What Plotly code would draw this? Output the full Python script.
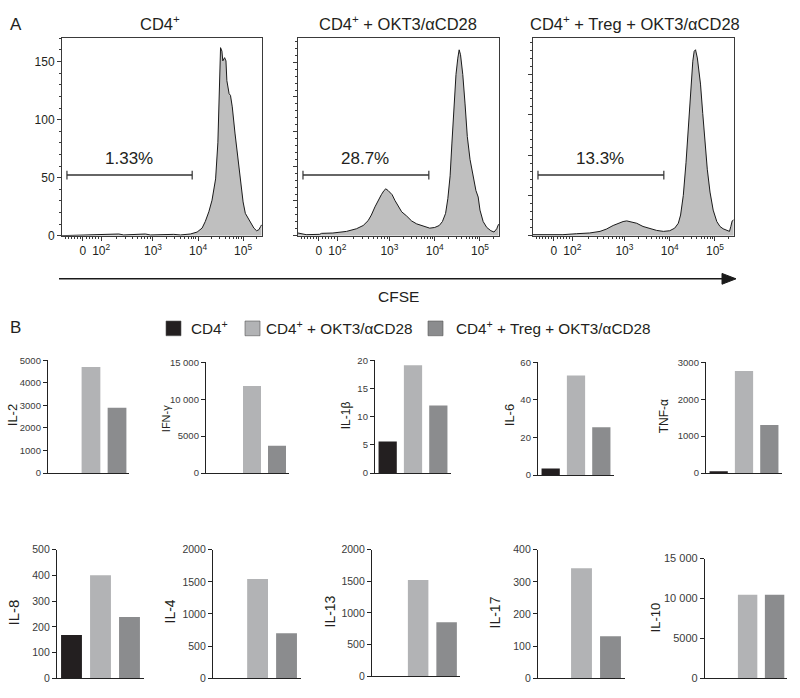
import plotly.graph_objects as go

W, H = 800, 698
FONT = "Liberation Sans, Arial, Helvetica, sans-serif"
TXT = "#231f20"

# ---------------- Panel A data: CFSE histograms ----------------
# x in biexponential display units (10^3 -> 3, 10^4 -> 4, 10^5 -> 5), y = cell count
hist_titles = ["CD4<sup>+</sup>", "CD4<sup>+</sup> + OKT3/αCD28",
               "CD4<sup>+</sup> + Treg + OKT3/αCD28"]

h1_x = [0.98, 1.46, 1.83, 2.13, 2.24, 2.35, 2.72, 2.83, 2.94, 3.24, 3.46, 3.61, 3.83,
        3.98, 4.09, 4.16, 4.24, 4.31, 4.39, 4.44, 4.48, 4.50, 4.53, 4.55, 4.59, 4.62,
        4.64, 4.69, 4.72, 4.76, 4.82, 4.88, 4.94, 5.00, 5.05, 5.10, 5.16, 5.24, 5.30,
        5.35, 5.39, 5.41]
h1_y = [0, 0.3, 0.6, 0.8, 1.4, 0.6, 0.8, 1.4, 0.6, 1.1, 1.1, 0.6, 1.4,
        3.1, 6.5, 12.1, 20.6, 30.5, 48.9, 80, 125, 162, 159, 150.6, 153.4, 150.6,
        133.6, 122.3, 120.9, 111, 88.4, 70, 48.9, 29.1, 19.2, 15.5, 11.6, 6.5, 4.2,
        5.1, 7.9, 9.3]

h2_x = [0.98, 1.16, 1.46, 1.50, 1.75, 2.05, 2.27, 2.42, 2.53, 2.60, 2.68, 2.75, 2.82,
        2.88, 2.92, 2.97, 3.01, 3.06, 3.12, 3.19, 3.27, 3.38, 3.49, 3.60, 3.75, 3.89,
        4.00, 4.10, 4.17, 4.24, 4.29, 4.34, 4.38, 4.42, 4.47, 4.51, 4.54, 4.57, 4.62,
        4.67, 4.72, 4.78, 4.84, 4.87, 4.91, 4.96, 5.00, 5.07, 5.15, 5.24, 5.31, 5.37,
        5.41]
h2_y = [3.8, 1.4, 1.9, 3.3, 3.8, 6.1, 9.9, 14.6, 21.7, 29.7, 41.5, 50.9, 59,
        65.1, 67.5, 65.1, 62.7, 59, 50.9, 42.9, 34.4, 28.3, 21.2, 17, 13.2, 10.8,
        11.8, 14.6, 20.3, 32.1, 53.3, 86.3, 133.5, 185.4, 232.5, 256, 268, 260.9, 232.5,
        190, 143, 110, 91, 76.9, 65.1, 55.7, 36.8, 20.3, 11.8, 7.1, 5.2, 9.9,
        16.5]

h3_x = [0.98, 1.64, 1.94, 2.23, 2.46, 2.60, 2.75, 2.86, 2.97, 3.05, 3.12, 3.19, 3.27,
        3.41, 3.56, 3.71, 3.86, 4.00, 4.11, 4.19, 4.24, 4.30, 4.36, 4.41, 4.46, 4.51,
        4.54, 4.57, 4.61, 4.65, 4.68, 4.73, 4.78, 4.83, 4.89, 4.96, 5.04, 5.11, 5.18,
        5.26, 5.32, 5.35, 5.38, 5.41]
h3_y = [1.2, 1.2, 2.4, 3.3, 5.3, 8.1, 12.6, 15.4, 17.5, 18.3, 17.5, 16.7, 15.4,
        11.4, 8.5, 6.5, 5.3, 6.1, 9.3, 15.4, 25.6, 50, 90.6, 135.4, 184.1, 216.7,
        228.9, 230.9, 220.7, 204.5, 188.2, 151.6, 115, 82.5, 54.1, 31.7, 17.5, 11.4, 8.5,
        6.1, 5.3, 11.4, 18.3, 19.5]

hist_x = [h1_x, h2_x, h3_x]
hist_y = [h1_y, h2_y, h3_y]
hist_ymax = [170, 284.5, 245]
gate_pct = ["1.33%", "28.7%", "13.3%"]
gate_lo, gate_hi = 1.09, 3.87
cfse_tickvals = [1.44, 1.85, 3, 4, 5]
cfse_ticktext = ["0", "10<sup>2</sup>", "10<sup>3</sup>", "10<sup>4</sup>", "10<sup>5</sup>"]
cfse_minor = [1.05, 1.12, 1.19, 1.26, 1.33, 1.39, 1.52, 1.58, 1.65, 1.72, 1.78,
              2.196, 2.399, 2.542, 2.654, 2.745, 2.822, 2.889, 2.947,
              3.301, 3.477, 3.602, 3.699, 3.778, 3.845, 3.903, 3.954,
              4.301, 4.477, 4.602, 4.699, 4.778, 4.845, 4.903, 4.954, 5.301]

# ---------------- Panel B data: cytokines ----------------
groups = ["CD4<sup>+</sup>", "CD4<sup>+</sup> + OKT3/αCD28", "CD4<sup>+</sup> + Treg + OKT3/αCD28"]
group_colors = ["#231f20", "#b2b3b5", "#8b8c8e"]
cytokines = ["IL-2", "IFN-γ", "IL-1β", "IL-6", "TNF-α",
             "IL-8", "IL-4", "IL-13", "IL-17", "IL-10"]
il2 = [0, 4700, 2900]
ifng = [0, 11800, 3700]
il1b = [5.6, 19.1, 12.0]
il6 = [3.5, 53, 25.5]
tnfa = [40, 2760, 1300]
il8 = [168, 401, 238]
il4 = [0, 1545, 700]
il13 = [0, 1520, 855]
il17 = [0, 342, 131]
il10 = [0, 10450, 10450]
cyto_values = [il2, ifng, il1b, il6, tnfa, il8, il4, il13, il17, il10]
cyto_ymax = [5000, 15000, 20, 60, 3000, 500, 2000, 2000, 400, 15000]
cyto_ticks = [[0, 1000, 2000, 3000, 4000, 5000],
              [0, 5000, 10000, 15000],
              [0, 5, 10, 15, 20],
              [0, 20, 40, 60],
              [0, 1000, 2000, 3000],
              [0, 100, 200, 300, 400, 500],
              [0, 500, 1000, 1500, 2000],
              [0, 500, 1000, 1500, 2000],
              [0, 100, 200, 300, 400],
              [0, 5000, 10000, 15000]]
cyto_ticktext = [["0", "1000", "2000", "3000", "4000", "5000"],
                 ["0", "5000", "10 000", "15 000"],
                 ["0", "5", "10", "15", "20"],
                 ["0", "20", "40", "60"],
                 ["0", "1000", "2000", "3000"],
                 ["0", "100", "200", "300", "400", "500"],
                 ["0", "500", "1000", "1500", "2000"],
                 ["0", "500", "1000", "1500", "2000"],
                 ["0", "100", "200", "300", "400"],
                 ["0", "5000", "10 000", "15 000"]]

# ---------------- layout helpers (pixel geometry) ----------------
def fx(px):
    return px / W

def fy(py):
    return 1 - py / H

def names(n):
    if n == 1:
        return "x", "y", "xaxis", "yaxis"
    return f"x{n}", f"y{n}", f"xaxis{n}", f"yaxis{n}"

fig = go.Figure()
layout = {}
annotations = []
shapes = []

# Panel A boxes: (left, right, top, bottom) in px
hist_boxes = [(62, 262, 33, 234), (298, 499, 33, 234), (533, 734, 33, 234)]
title_cx = [160, 398, 635]

for i in range(3):
    n = i + 1
    l, r, t, b = hist_boxes[i]
    xa, ya, xk, yk = names(n)
    fig.add_trace(go.Scatter(
        x=hist_x[i], y=hist_y[i], mode="lines", fill="tozeroy",
        fillcolor="#bfbfbf", line=dict(color="#1a1a1a", width=1),
        xaxis=xa, yaxis=ya, showlegend=False, hoverinfo="skip"))
    layout[xk] = dict(
        domain=[fx(l), fx(r)], anchor=ya, range=[0.98, 5.42],
        showline=True, mirror=True, linecolor="#3a3a3a", linewidth=1,
        ticks="outside", ticklen=4, tickcolor="#3a3a3a", tickwidth=1,
        tickmode="array", tickvals=cfse_tickvals, ticktext=cfse_ticktext,
        tickfont=dict(size=12, color=TXT, family=FONT),
        minor=dict(tickmode="array", tickvals=cfse_minor, ticks="outside",
                   ticklen=2, tickcolor="#3a3a3a", tickwidth=1),
        showgrid=False, zeroline=False)
    layout[yk] = dict(
        domain=[fy(b), fy(t)], anchor=xa, range=[0, hist_ymax[i]],
        showline=True, mirror=True, linecolor="#3a3a3a", linewidth=1,
        ticks="outside", ticklen=4, tickcolor="#3a3a3a", tickwidth=1,
        tickmode="linear", tick0=0, dtick=50,
        showticklabels=(i == 0),
        tickfont=dict(size=12, color=TXT, family=FONT),
        minor=dict(ticks="outside", ticklen=2, dtick=10, tickcolor="#3a3a3a"),
        showgrid=False, zeroline=False)
    annotations.append(dict(
        x=fx(title_cx[i]), y=fy(17), xref="paper", yref="paper",
        text=hist_titles[i], showarrow=False, xanchor="center", yanchor="middle",
        font=dict(size=16.5, color=TXT, family=FONT)))
    gy = 0.307
    shapes.append(dict(type="line", xref=xa, yref=f"{ya} domain",
                       x0=gate_lo, x1=gate_hi, y0=gy, y1=gy,
                       line=dict(color="#333333", width=1.5)))
    for gx in (gate_lo, gate_hi):
        shapes.append(dict(type="line", xref=xa, yref=f"{ya} domain",
                           x0=gx, x1=gx, y0=gy - 0.022, y1=gy + 0.022,
                           line=dict(color="#333333", width=1.2)))
    annotations.append(dict(
        x=(gate_lo + gate_hi) / 2 - 0.02, y=0.393, xref=xa, yref=f"{ya} domain",
        text=gate_pct[i], showarrow=False, xanchor="center", yanchor="middle",
        font=dict(size=17, color=TXT, family=FONT)))

# CFSE arrow
shapes.append(dict(type="line", xref="paper", yref="paper",
                   x0=fx(59), x1=fx(725), y0=fy(278), y1=fy(278),
                   line=dict(color="#1a1a1a", width=1.6)))
shapes.append(dict(type="path", xref="paper", yref="paper",
                   path=f"M {fx(722)} {fy(272.5)} L {fx(736)} {fy(278)} L {fx(722)} {fy(283.5)} Z",
                   fillcolor="#1a1a1a", line=dict(color="#1a1a1a", width=1)))
annotations.append(dict(x=fx(398), y=fy(296), xref="paper", yref="paper",
                        text="CFSE", showarrow=False, xanchor="center", yanchor="middle",
                        font=dict(size=15.5, color=TXT, family=FONT)))

# Panel letters
annotations.append(dict(x=fx(8), y=fy(19), xref="paper", yref="paper", text="A",
                        showarrow=False, xanchor="left", yanchor="middle",
                        font=dict(size=17, color=TXT, family=FONT)))
annotations.append(dict(x=fx(8), y=fy(328), xref="paper", yref="paper", text="B",
                        showarrow=False, xanchor="left", yanchor="middle",
                        font=dict(size=17, color=TXT, family=FONT)))

# Legend (manual)
leg_sq = [166, 245, 428]
leg_tx = [189, 264, 454]
for k in range(3):
    shapes.append(dict(type="rect", xref="paper", yref="paper",
                       x0=fx(leg_sq[k]), x1=fx(leg_sq[k] + 15), y0=fy(336), y1=fy(321),
                       fillcolor=group_colors[k], line=dict(color="#555555", width=0.6)))
    annotations.append(dict(x=fx(leg_tx[k]), y=fy(328), xref="paper", yref="paper",
                            text=groups[k], showarrow=False, xanchor="left", yanchor="middle",
                            font=dict(size=15.3, color=TXT, family=FONT)))

# Panel B boxes:
# (axis_x, end_x, top, bottom, xrange_lo, xrange_hi, title_x, title_y, title_size, tick_size)
bar_boxes = [
    (48, 129, 361, 476, -0.65, 2.46, 12, 417, 13, 9.5),
    (206, 289, 363, 476, -0.84, 2.48, 166, 421, 11, 9.5),
    (375, 451, 361, 476, -0.5, 2.5, 346, 417, 12, 9.5),
    (538, 614, 363, 478, -0.5, 2.5, 509, 417, 13, 9.5),
    (706, 782, 363, 476, -0.5, 2.5, 664, 418, 12, 9.5),
    (57, 144, 554, 685, -0.5, 2.5, 13, 618, 15, 10.5),
    (213, 301, 554, 685, -0.54, 2.5, 170, 617, 14, 10.5),
    (372, 460, 554, 683, -0.62, 2.47, 330, 617, 14, 10.5),
    (538, 625, 554, 685, -0.5, 2.5, 495, 618, 14, 10.5),
    (705, 787, 563, 685, -0.58, 2.46, 655, 623, 13, 11),
]

for j in range(10):
    n = j + 4
    ax0, ax1, t, b, lo, hi, tx, ty, tsz, ksz = bar_boxes[j]
    xa, ya, xk, yk = names(n)
    fig.add_trace(go.Bar(
        x=[0, 1, 2], y=cyto_values[j], width=0.72,
        marker=dict(color=group_colors, line=dict(width=0)),
        xaxis=xa, yaxis=ya, showlegend=False, hoverinfo="skip"))
    layout[xk] = dict(
        domain=[fx(ax0), fx(ax1)], anchor=ya, range=[lo, hi],
        showline=True, linecolor="#222222", linewidth=1.3,
        showticklabels=False, ticks="", showgrid=False, zeroline=False)
    layout[yk] = dict(
        domain=[fy(b), fy(t)], anchor=xa, range=[0, cyto_ymax[j]],
        showline=True, linecolor="#222222", linewidth=1.3,
        ticks="outside", ticklen=4, tickcolor="#222222", tickwidth=1,
        tickmode="array", tickvals=cyto_ticks[j], ticktext=cyto_ticktext[j],
        tickfont=dict(size=ksz, color="#3a3a3a", family=FONT),
        showgrid=False, zeroline=False)
    annotations.append(dict(
        x=fx(tx), y=fy(ty), xref="paper", yref="paper", text=cytokines[j],
        textangle=-90, showarrow=False, xanchor="center", yanchor="middle",
        font=dict(size=tsz, color=TXT, family=FONT)))

fig.update_layout(
    width=W, height=H, margin=dict(l=0, r=0, t=0, b=0),
    paper_bgcolor="white", plot_bgcolor="white",
    font=dict(family=FONT, color=TXT),
    showlegend=False, bargap=0.28,
    annotations=annotations, shapes=shapes, **layout)

fig.write_html("out.html", config={"displayModeBar": False},
               post_script="document.body.style.margin='0';")
